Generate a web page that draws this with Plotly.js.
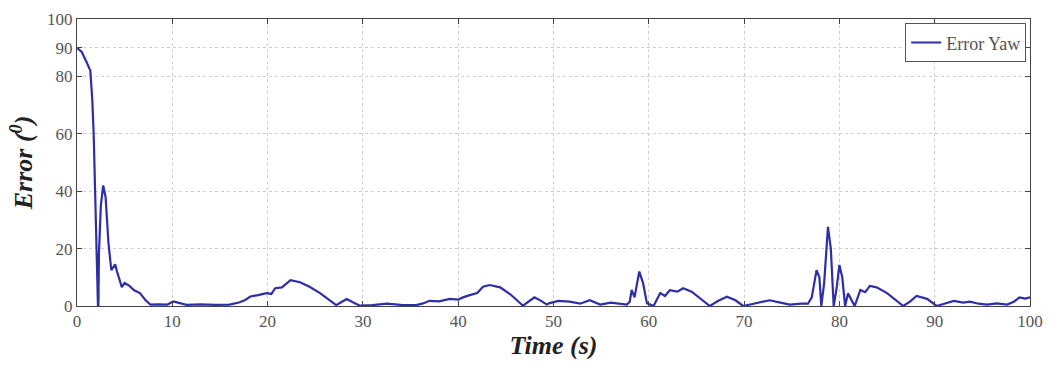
<!DOCTYPE html>
<html>
<head>
<meta charset="utf-8">
<script src="https://cdn.plot.ly/plotly-3.0.1.min.js"></script>
<style>html,body{margin:0;padding:0;background:#fff;}#chart{width:1051px;height:368px;}</style>
</head>
<body>
<div id="chart"></div>
<script>
const seriesName = "Error Yaw";
const time = [0,0.5,1.0,1.4,1.6,1.75,1.9,2.0,2.1,2.2,2.25,2.3,2.5,2.75,3.0,3.3,3.6,4.0,4.2,4.7,5.0,5.5,6.0,6.6,7.2,7.7,8.5,9.5,10.1,10.7,11.5,13,14.5,16,17,17.6,18.2,19,19.9,20.4,20.8,21.5,22.4,23.4,24.4,25.5,26.5,27.2,27.8,28.3,29,29.7,31,32.5,34,35.6,36.3,37,38,39.1,40,40.5,41.2,42,42.6,43.3,44.4,45.5,46.8,47.4,48,48.7,49.3,49.6,50.5,51.7,52.8,53.8,54.9,56,57.7,58.0,58.2,58.5,59.0,59.4,59.8,60.5,61.2,61.7,62.2,63,63.6,64.5,65.5,66.4,67.3,68.2,69.1,69.9,71,72.7,73.8,74.8,76,76.7,77.1,77.6,77.9,78.1,78.4,78.8,79.1,79.4,79.7,80.0,80.3,80.6,80.9,81.3,81.6,82.2,82.7,83.2,83.9,85,86,86.7,87.4,88.1,89.2,90.2,91,92,93,93.7,94.6,95.5,96.5,97.6,98.3,98.9,99.5,100];
const errorYaw = [90,88.5,85,82,72,60,40,25,12,0,0,18,35,42,38,22,12.5,14.5,12,6.6,8,7,5.5,4.5,2,0.5,0.6,0.5,1.6,1,0.4,0.6,0.4,0.5,1.2,2,3.3,3.8,4.5,4.2,6.2,6.5,9,8.3,6.7,4.5,2,0.3,1.5,2.4,1.2,0.1,0.3,0.8,0.4,0.3,0.9,1.8,1.6,2.5,2.2,3,3.8,4.5,6.7,7.3,6.5,4,0.1,1.5,3,1.8,0.5,1,1.8,1.5,0.8,2,0.5,1.2,0.5,1.5,5.6,3,12,8,1,0,4.5,3.5,5.5,5,6.2,5,2.5,0,1.8,3.2,2,0,0.8,2,1.2,0.5,0.8,0.8,3,12.5,10,0,8,27.6,20,0,6,14.3,10,0,4.4,2,0,5.6,4.8,7,6.5,4.5,2,0,1.5,3.5,2.5,0,0.8,1.8,1.2,1.5,0.8,0.5,0.9,0.5,1.5,3,2.6,3];
const xTicks = [0,10,20,30,40,50,60,70,80,90,100];
const yTicks = [0,20,40,60,80,90,100];

const serif = '"Liberation Serif", "Times New Roman", serif';
const axisCommon = {
  showline: true, linecolor: '#444', linewidth: 1, mirror: 'ticks',
  ticks: 'inside', ticklen: 5, tickcolor: '#444',
  showgrid: true, gridcolor: '#cfcfcf', griddash: 'dot', gridwidth: 1,
  zeroline: false,
  tickfont: {family: serif, size: 17, color: '#555'}
};

const trace = {
  x: time, y: errorYaw, type: 'scatter', mode: 'lines', name: seriesName,
  line: {color: '#2e2ea8', width: 2.2}
};

const layout = {
  width: 1051, height: 368,
  margin: {l: 77, r: 21, t: 19, b: 62},
  paper_bgcolor: '#fff', plot_bgcolor: '#fff',
  showlegend: true,
  legend: {x: 0.996, y: 0.985, xanchor: 'right', yanchor: 'top', bgcolor: '#fff', bordercolor: '#555', borderwidth: 1,
    font: {family: serif, size: 18, color: '#555'}},
  xaxis: Object.assign({}, axisCommon, {range: [0, 100], tickvals: xTicks,
    title: {text: '<b><i>Time (s)</i></b>', standoff: 4,
      font: {family: serif, size: 26, color: '#222'}}}),
  yaxis: Object.assign({}, axisCommon, {range: [0, 100], tickvals: yTicks,
    title: {text: '<b><i>Error (<sup>0</sup>)</i></b>', standoff: 6,
      font: {family: serif, size: 26, color: '#222'}}})
};

Plotly.newPlot('chart', [trace], layout, {displayModeBar: false, staticPlot: true});
</script>
</body>
</html>
